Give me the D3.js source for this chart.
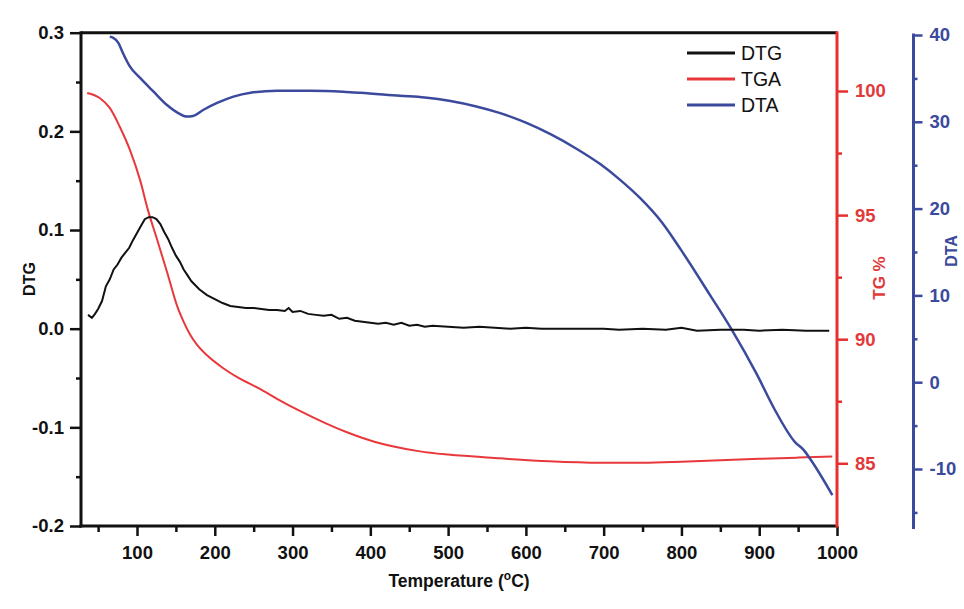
<!DOCTYPE html>
<html><head><meta charset="utf-8">
<script src="https://cdn.jsdelivr.net/npm/d3@7"></script>
<style>
html,body{margin:0;padding:0;background:#fff;}
svg{display:block;font-family:"Liberation Sans",Arial,sans-serif;}
</style></head>
<body><svg id="c" width="964" height="609"></svg>
<script>
// ---- data ----
const dtgT = [37,42,46,50,55,60,65,70,75,80,85,90,95,100,105,110,115,120,125,130,135,140,145,150,155,160,165,170,175,180,190,200,210,220,230,240,250,260,270,280,290,295,300,310,320,330,340,350,360,370,380,390,400,410,420,430,440,450,460,470,480,500,520,540,560,580,600,620,650,680,700,720,750,780,800,820,850,880,900,930,960,990];
const dtgV = [0.014,0.011,0.015,0.020,0.028,0.043,0.050,0.060,0.065,0.072,0.077,0.082,0.090,0.097,0.104,0.111,0.113,0.113,0.111,0.106,0.098,0.091,0.082,0.074,0.068,0.060,0.054,0.048,0.044,0.040,0.034,0.030,0.026,0.023,0.022,0.021,0.021,0.020,0.019,0.019,0.018,0.021,0.017,0.018,0.015,0.014,0.013,0.014,0.010,0.011,0.008,0.007,0.006,0.005,0.006,0.004,0.006,0.003,0.004,0.002,0.003,0.002,0.001,0.002,0.001,0.000,0.001,0.000,0.000,0.000,0.000,-0.001,0.000,-0.001,0.001,-0.002,-0.001,-0.001,-0.002,-0.001,-0.002,-0.002];

const tgaT = [36,52,65,78,91,104,114,126,139,152,160,168,177,190,210,230,258,280,310,340,370,400,430,464,500,567,630,696,750,800,850,900,950,994];
const tgaV = [99.92,99.72,99.32,98.55,97.62,96.41,95.21,94.0,92.67,91.3,90.7,90.2,89.78,89.35,88.85,88.45,88.0,87.6,87.1,86.65,86.25,85.92,85.68,85.48,85.35,85.2,85.08,85.02,85.02,85.06,85.12,85.18,85.23,85.27];

const dtaT = [65,69,76,82,91,104,121,139,153,164,172,185,203,224,246,280,323,365,387,438,470,503,535,567,600,631,665,696,720,747,775,799,837,865,897,919,946,957,966,994];
const dtaV = [39.8,39.7,39.1,37.9,36.35,35.05,33.5,31.9,31.0,30.6,30.67,31.36,32.17,32.9,33.35,33.58,33.58,33.47,33.35,33.0,32.8,32.4,31.8,31.0,29.9,28.6,26.9,25.1,23.4,21.2,18.4,15.3,10.0,6.0,0.9,-3.0,-6.9,-7.8,-8.9,-13.0];

const xTicks = [100,200,300,400,500,600,700,800,900,1000];
const xMinor = [50,150,250,350,450,550,650,750,850,950];
const dtgTicks = [-0.2,-0.1,0.0,0.1,0.2,0.3];
const dtgMinor = [-0.15,-0.05,0.05,0.15,0.25];
const tgTicks = [85,90,95,100];
const tgMinor = [87.5,92.5,97.5];
const dtaTicks = [-10,0,10,20,30,40];
const dtaMinor = [-15,-5,5,15,25,35];
const legendNames = ["DTG","TGA","DTA"];

// ---- layout ----
const L = 81, R = 837, T = 32.7, B = 526;
const RED = "#e6302f", BLUE = "#3b4a9c", BLK = "#111";
const svg = d3.select("#c");

const x = d3.scaleLinear().domain([28, 1000]).range([L, R]);
const yDTG = d3.scaleLinear().domain([-0.2, 0.3]).range([B, T]);
const yTG = d3.scaleLinear().domain([85, 100]).range([463.3, 91]);
const yDTA = d3.scaleLinear().domain([-10, 40]).range([469, 35]);

function styleAxis(g, color, fs){
  g.select(".domain").remove();
  g.selectAll("line").attr("stroke", color).attr("stroke-width", 2.5);
  g.selectAll("text").attr("fill", color).attr("font-size", fs).attr("font-weight", "bold");
}

// bottom
const gx = svg.append("g").attr("transform", `translate(0,${B})`)
  .call(d3.axisBottom(x).tickValues(xTicks).tickSize(10).tickPadding(10).tickFormat(d3.format("d")));
styleAxis(gx, BLK, 18.5);
const gxm = svg.append("g").attr("transform", `translate(0,${B})`)
  .call(d3.axisBottom(x).tickValues(xMinor).tickSize(6).tickFormat(""));
styleAxis(gxm, BLK, 18);

// left
const gy = svg.append("g").attr("transform", `translate(${L},0)`)
  .call(d3.axisLeft(yDTG).tickValues(dtgTicks).tickSize(11).tickPadding(6).tickFormat(d3.format(".1f")));
styleAxis(gy, BLK, 18.5);
gy.selectAll("text").text(d => d3.format(".1f")(d).replace("−","-"));
const gym = svg.append("g").attr("transform", `translate(${L},0)`)
  .call(d3.axisLeft(yDTG).tickValues(dtgMinor).tickSize(5).tickFormat(""));
styleAxis(gym, BLK, 18);

// right TG
const gtg = svg.append("g").attr("transform", `translate(${R},0)`)
  .call(d3.axisRight(yTG).tickValues(tgTicks).tickSize(11).tickPadding(7).tickFormat(d3.format("d")));
styleAxis(gtg, RED, 18.5);
gtg.selectAll("text").attr("fill", "#e23a3a");
const gtgm = svg.append("g").attr("transform", `translate(${R},0)`)
  .call(d3.axisRight(yTG).tickValues(tgMinor).tickSize(5).tickFormat(""));
styleAxis(gtgm, RED, 18);

// right DTA
const DX = 913.5;
const gdta = svg.append("g").attr("transform", `translate(${DX},0)`)
  .call(d3.axisRight(yDTA).tickValues(dtaTicks).tickSize(9).tickPadding(7).tickFormat(d3.format("d")));
styleAxis(gdta, BLUE, 18.5);
gdta.selectAll("text").text(d => String(d));
const gdtam = svg.append("g").attr("transform", `translate(${DX},0)`)
  .call(d3.axisRight(yDTA).tickValues(dtaMinor).tickSize(4).tickFormat(""));
styleAxis(gdtam, BLUE, 18);

// axis lines / frame
svg.append("line").attr("x1", L).attr("x2", R).attr("y1", T).attr("y2", T).attr("stroke", BLK).attr("stroke-width", 3);
svg.append("line").attr("x1", L).attr("x2", L).attr("y1", T - 1.5).attr("y2", B + 1.5).attr("stroke", BLK).attr("stroke-width", 3);
svg.append("line").attr("x1", L - 1.5).attr("x2", R).attr("y1", B).attr("y2", B).attr("stroke", BLK).attr("stroke-width", 3);
svg.append("line").attr("x1", R).attr("x2", R).attr("y1", T - 1.5).attr("y2", B + 1.5).attr("stroke", RED).attr("stroke-width", 3);
svg.append("line").attr("x1", DX).attr("x2", DX).attr("y1", 33.5).attr("y2", 529).attr("stroke", BLUE).attr("stroke-width", 3);

// series
const line = (ys) => d3.line().x(d => x(d[0])).y(d => ys(d[1]));
svg.append("path").datum(tgaT.map((t,i)=>[t,tgaV[i]]))
  .attr("d", line(yTG).curve(d3.curveMonotoneX)).attr("fill","none").attr("stroke","#e8383c").attr("stroke-width",2);
svg.append("path").datum(dtaT.map((t,i)=>[t,dtaV[i]]))
  .attr("d", line(yDTA).curve(d3.curveMonotoneX)).attr("fill","none").attr("stroke",BLUE).attr("stroke-width",2.5);
svg.append("path").datum(dtgT.map((t,i)=>[t,dtgV[i]]))
  .attr("d", line(yDTG)).attr("fill","none").attr("stroke",BLK).attr("stroke-width",2);

// axis titles
svg.append("text").attr("transform", `translate(35,279) rotate(-90)`).attr("text-anchor","middle")
  .attr("font-size",16).attr("font-weight","bold").attr("fill",BLK).text("DTG");
svg.append("text").attr("transform", `translate(885,278) rotate(-90)`).attr("text-anchor","middle")
  .attr("font-size",17).attr("font-weight","bold").attr("fill","#e23a3a").text("TG %");
svg.append("text").attr("transform", `translate(957,251) rotate(-90)`).attr("text-anchor","middle")
  .attr("font-size",16).attr("font-weight","bold").attr("fill",BLUE).text("DTA");
const xt = svg.append("text").attr("x", 459).attr("y", 587).attr("text-anchor","middle")
  .attr("font-size",17.5).attr("font-weight","bold").attr("fill",BLK);
xt.append("tspan").text("Temperature (");
xt.append("tspan").attr("font-size",12).attr("dy",-7).text("o");
xt.append("tspan").attr("dy",7).text("C)");

// legend
const legColors = [BLK, "#e8383c", BLUE];
const leg = svg.append("g");
legendNames.forEach((n,i)=>{
  const yy = 53 + i*26;
  leg.append("line").attr("x1",687).attr("x2",735).attr("y1",yy).attr("y2",yy).attr("stroke",legColors[i]).attr("stroke-width",3);
  leg.append("text").attr("x",741).attr("y",yy+7).attr("font-size",19.5).attr("fill","#111").text(n);
});
</script></body></html>
